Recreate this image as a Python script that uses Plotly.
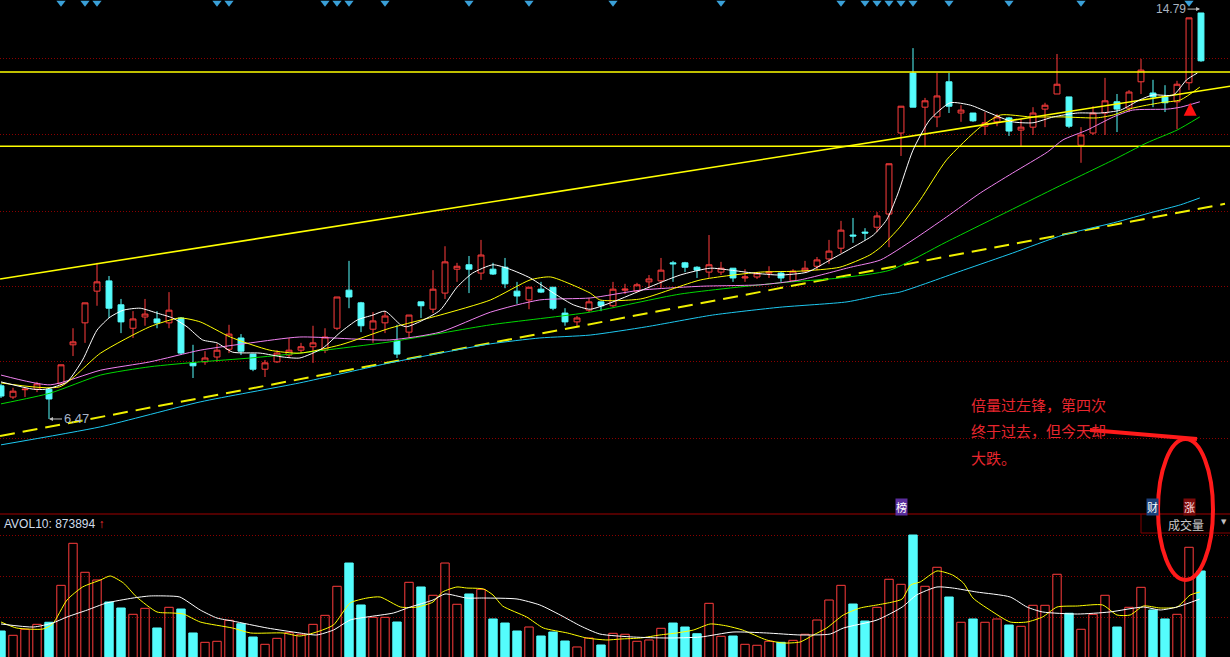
import plotly.graph_objects as go

# ---------------- data ----------------
idx = list(range(101))
open_ = [7.15, 6.92, 7.07, 7.08, 7.08, 7.19, 7.99, 8.44, 9.09, 9.30,
         8.81, 8.33, 8.56, 8.52, 8.44, 8.54, 7.62, 7.64, 7.74, 7.90,
         8.13, 7.80, 7.49, 7.64, 7.78, 7.88, 7.95, 7.88, 8.33, 9.11,
         8.85, 8.31, 8.44, 8.07, 8.25, 8.87, 8.72, 9.05, 9.54, 9.63,
         9.46, 9.54, 9.58, 9.09, 8.91, 9.13, 9.17, 8.64, 8.46, 8.70,
         8.87, 8.79, 9.11, 9.09, 9.28, 9.30, 9.67, 9.67, 9.58, 9.48,
         9.48, 9.56, 9.36, 9.38, 9.46, 9.46, 9.30, 9.50, 9.60, 9.75,
         9.97, 10.24, 10.30, 10.40, 10.67, 12.33, 13.56, 12.86, 12.66, 13.38,
         12.74, 12.74, 12.47, 12.56, 12.64, 12.39, 12.45, 12.82, 13.13, 13.07,
         12.08, 12.33, 12.74, 12.97, 12.84, 13.38, 13.15, 13.07, 12.97, 13.36,
         14.79]
high = [7.19, 7.11, 7.11, 7.23, 7.11, 7.58, 8.33, 8.85, 9.67, 9.40,
        8.93, 8.68, 8.93, 8.68, 9.07, 8.56, 7.99, 7.86, 8.01, 8.40,
        8.21, 7.80, 7.68, 7.88, 8.13, 8.03, 8.38, 8.33, 8.97, 9.71,
        8.87, 8.66, 8.68, 8.40, 8.60, 8.87, 9.52, 10.01, 9.67, 9.81,
        10.14, 9.67, 9.77, 9.28, 9.17, 9.28, 9.17, 8.74, 8.58, 8.95,
        8.87, 9.28, 9.24, 9.26, 9.42, 9.77, 9.71, 9.69, 9.60, 10.24,
        9.69, 9.56, 9.54, 9.48, 9.60, 9.50, 9.54, 9.71, 9.79, 10.14,
        10.53, 10.59, 10.38, 10.71, 11.70, 12.88, 14.07, 13.05, 13.56, 13.56,
        12.90, 12.74, 12.76, 12.72, 12.66, 12.62, 12.86, 12.95, 13.95, 13.07,
        12.45, 12.88, 13.46, 13.13, 13.21, 13.85, 13.42, 13.31, 13.40, 14.69,
        14.79]
low = [6.90, 6.88, 6.92, 7.02, 6.47, 7.17, 7.76, 8.03, 8.79, 8.54,
       8.23, 8.13, 8.38, 8.33, 8.33, 7.80, 7.31, 7.58, 7.64, 7.82,
       7.78, 7.45, 7.33, 7.62, 7.72, 7.82, 7.62, 7.82, 8.29, 8.74,
       8.25, 8.03, 8.23, 7.72, 8.13, 8.54, 8.64, 8.93, 9.28, 9.05,
       9.32, 9.42, 9.15, 8.83, 8.72, 9.05, 8.70, 8.38, 8.36, 8.66,
       8.68, 8.76, 9.03, 9.07, 9.15, 9.15, 9.28, 9.48, 9.36, 9.36,
       9.42, 9.28, 9.28, 9.34, 9.36, 9.28, 9.28, 9.48, 9.52, 9.65,
       9.87, 10.08, 10.14, 10.30, 9.99, 11.86, 12.86, 12.04, 12.45, 12.74,
       12.56, 12.56, 12.29, 12.47, 12.27, 12.06, 12.29, 12.45, 13.13, 12.43,
       11.72, 12.29, 12.29, 12.35, 12.76, 13.13, 12.86, 12.76, 12.41, 13.21,
       13.79]
close = [6.94, 7.04, 7.08, 7.19, 6.88, 7.58, 8.05, 8.85, 9.28, 8.74,
         8.46, 8.52, 8.62, 8.44, 8.70, 7.82, 7.56, 7.72, 7.88, 8.21,
         7.86, 7.49, 7.62, 7.82, 7.88, 7.95, 8.03, 8.15, 8.97, 8.97,
         8.38, 8.48, 8.58, 7.80, 8.60, 8.79, 9.13, 9.69, 9.60, 9.54,
         9.83, 9.44, 9.24, 8.99, 9.17, 9.07, 8.74, 8.46, 8.54, 8.87,
         8.79, 9.13, 9.13, 9.22, 9.34, 9.52, 9.65, 9.58, 9.52, 9.63,
         9.56, 9.36, 9.38, 9.46, 9.48, 9.36, 9.50, 9.56, 9.73, 9.91,
         10.34, 10.22, 10.28, 10.63, 11.70, 12.88, 12.86, 12.99, 13.09, 12.88,
         12.80, 12.58, 12.54, 12.66, 12.37, 12.45, 12.74, 12.90, 13.33, 12.47,
         12.29, 12.74, 12.99, 12.82, 13.17, 13.62, 13.07, 12.95, 13.33, 14.69,
         13.81]
volume = [408000, 345000, 433000, 505000, 535000, 1073000, 1685000, 1263000, 1151000, 830000,
          743000, 651000, 738000, 452000, 753000, 728000, 379000, 243000, 258000, 564000,
          514000, 320000, 214000, 301000, 383000, 360000, 505000, 636000, 1059000, 1398000,
          787000, 607000, 607000, 539000, 1117000, 1049000, 928000, 1398000, 797000, 947000,
          1015000, 583000, 524000, 408000, 466000, 335000, 393000, 262000, 175000, 306000,
          204000, 374000, 360000, 258000, 277000, 447000, 524000, 466000, 368000, 811000,
          331000, 335000, 214000, 200000, 258000, 243000, 272000, 360000, 568000, 859000,
          1073000, 801000, 553000, 753000, 1161000, 1088000, 1806000, 1059000, 1336000, 903000,
          535000, 583000, 535000, 583000, 495000, 476000, 782000, 782000, 1234000, 666000,
          433000, 651000, 928000, 466000, 753000, 1044000, 714000, 583000, 651000, 1627000,
          1282000]

# price moving averages
ma5_x = [0, 2.7, 3.7, 5.5, 6.8, 8, 9.1, 10.2, 11.6, 13, 14.3, 15.5, 16.8, 18, 19.3, 21.6,
         23.5, 24.9, 26.8, 28.3, 29.7, 31, 32, 33.3, 33.8, 35.2, 36.6, 38, 39.3, 41, 42.4,
         44.1, 46.3, 47.7, 49.1, 51, 53.8, 56.6, 59.1, 60.8, 62.7, 64.9, 67.2, 69.1, 71,
         72.7, 73.8, 74.7, 76, 77.4, 79.1, 80.8, 82.4, 84.3, 86, 87.7, 89.7, 91.6, 93.3,
         94.9, 96, 97.7, 98.8, 99.7]
ma5_y = [7.23, 7.08, 7.08, 7.23, 7.68, 8.29, 8.56, 8.70, 8.74, 8.64, 8.54, 8.36, 8.09, 8.03,
         7.84, 7.82, 7.74, 7.72, 7.92, 8.25, 8.50, 8.60, 8.68, 8.40, 8.36, 8.50, 8.70, 9.17,
         9.46, 9.63, 9.54, 9.36, 9.01, 8.81, 8.72, 8.87, 9.15, 9.42, 9.56, 9.52, 9.46, 9.42,
         9.48, 9.73, 9.99, 10.24, 10.55, 11.06, 11.98, 12.60, 12.95, 12.90, 12.74, 12.56,
         12.54, 12.66, 12.74, 12.74, 12.80, 13.01, 13.11, 13.11, 13.42, 13.56]
ma10_x = [0, 4.9, 8.3, 12.4, 14.9, 16.6, 19.1, 22.4, 24.9, 28.3, 32.4, 36.6, 40.8, 44.1,
          45.8, 49.1, 49.9, 53.3, 58.3, 63.3, 66.6, 69.9, 72.4, 73.3, 74.9, 76.6, 78.8,
          81.6, 83.3, 85.8, 88.5, 91.3, 92.7, 94.3, 96.6, 98.3, 99.9]
ma10_y = [7.21, 7.13, 7.82, 8.36, 8.54, 8.46, 8.15, 7.88, 7.82, 7.99, 8.33, 8.60, 8.91, 9.32,
          9.38, 9.05, 8.91, 8.93, 9.32, 9.48, 9.50, 9.58, 9.83, 9.99, 10.40, 10.96, 11.78,
          12.45, 12.70, 12.66, 12.66, 12.64, 12.70, 12.84, 12.95, 13.01, 13.27]
ma20_x = [0, 4.1, 8.3, 12.4, 16.6, 20.8, 24.9, 32.4, 36.6, 40.8, 44.9, 49.1, 53.3, 58.3,
          63.3, 66.6, 70.8, 73.3, 76, 78.8, 81.6, 84.3, 87.2, 88.5, 90.5, 92.7, 94.3, 97.2,
          98.3, 99.9]
ma20_y = [7.37, 7.17, 7.47, 7.64, 7.88, 8.03, 8.15, 8.09, 8.25, 8.66, 8.91, 8.95, 9.11, 9.19,
          9.22, 9.32, 9.58, 9.73, 10.14, 10.61, 11.10, 11.51, 11.94, 12.19, 12.39, 12.66,
          12.80, 12.82, 12.86, 12.97]
ma60_x = [0, 4.1, 8.3, 12.4, 16.6, 20.8, 24.9, 32.4, 40.8, 49.1, 56.6, 64.9, 69.9, 74.1,
          78.8, 84.3, 88, 92.7, 95.5, 98, 99.9]
ma60_y = [6.78, 7.00, 7.37, 7.54, 7.64, 7.72, 7.82, 8.05, 8.40, 8.66, 9.03, 9.26, 9.36, 9.52,
          10.10, 10.77, 11.22, 11.78, 12.13, 12.39, 12.66]
ma120_x = [0, 8.3, 16.6, 24.9, 32.4, 36.6, 40.8, 44.9, 49.1, 53.8, 59.3, 64.9, 70.5, 73.3,
           74.9, 80.2, 84.3, 88.5, 92.7, 96, 98.3, 99.9]
ma120_y = [5.94, 6.31, 6.82, 7.21, 7.62, 7.82, 8.01, 8.13, 8.19, 8.36, 8.60, 8.76, 8.87, 9.01,
           9.07, 9.52, 9.87, 10.24, 10.49, 10.71, 10.86, 11.00]

# volume moving averages
vma5_x = [0, 1.3, 3.5, 4.3, 5.5, 6.8, 8.3, 9.1, 10.2, 11.3, 13, 14.3, 15.2, 16.6, 19.3, 20.8,
          23.5, 24.9, 26.3, 27.7, 29.1, 30.5, 31.6, 33.3, 34.7, 36, 36.8, 38, 38.8, 40.2, 41,
          41.8, 43.8, 45.2, 47.2, 48.8, 50.5, 51.6, 53.3, 54.9, 56.3, 57.7, 59.1, 60.5, 61.8,
          63.8, 65.2, 66.6, 67.7, 68.8, 70.2, 71.6, 73, 74.3, 75.1, 75.8, 76.6, 78, 79.3, 80.2,
          81, 82.4, 84.1, 85.5, 86.8, 88, 89.7, 91.8, 93, 94.1, 95.2, 96.6, 98, 99.1, 99.9]
vma5_y = [539000, 451500, 437000, 510000, 859000, 1049000, 1151000, 1209000, 1107000, 903000,
          685000, 670000, 655000, 539000, 451000, 379000, 379000, 335000, 393000, 495000,
          816000, 888000, 903000, 757000, 757000, 830000, 976000, 1049000, 1034000, 1020000,
          932000, 772000, 612000, 452000, 379000, 306000, 277000, 291000, 306000, 350000,
          379000, 422000, 510000, 481000, 422000, 277000, 233000, 248000, 350000, 451000,
          641000, 743000, 787000, 830000, 874000, 1078000, 1122000, 1282000, 1223000, 1107000,
          888000, 714000, 539000, 539000, 612000, 757000, 772000, 787000, 641000, 641000,
          772000, 743000, 757000, 932000, 976000]
vma10_x = [0, 2.7, 4.3, 5.5, 7.2, 8.8, 11, 12.4, 13.8, 14.9, 16.6, 18, 19.3, 22.2, 24.9, 26.3,
           27.7, 29.1, 30.5, 32.7, 34.1, 36, 37, 38.8, 40.2, 43, 44.9, 46.6, 48.3, 49.9, 52.7,
           55.5, 58.3, 61, 63.8, 66.6, 69.1, 70.2, 73, 75.1, 76.3, 78, 79.3, 81.3, 84.1, 85.5,
           86.8, 89.7, 92.4, 95.2, 96.6, 98, 99.9]
vma10_y = [510000, 466000, 524000, 612000, 714000, 816000, 888000, 918000, 918000, 903000,
           714000, 597000, 553000, 451000, 379000, 350000, 422000, 568000, 612000, 670000,
           757000, 859000, 947000, 888000, 888000, 874000, 787000, 641000, 481000, 364000,
           320000, 306000, 320000, 393000, 379000, 350000, 364000, 451000, 568000, 757000,
           932000, 1049000, 1034000, 976000, 903000, 757000, 685000, 655000, 685000, 757000,
           714000, 757000, 873894]

# drawn lines / markers
resistance_levels = [13.58, 12.06]
trend_x = [-0.08, 102.42]
trend_y = [9.34, 13.29]
support_x = [-0.08, 102.0]
support_y = [6.12, 10.88]
signal_idx = [5, 7, 8, 18, 19, 27, 28, 29, 32, 39, 44, 51, 60, 70, 72, 73, 74, 75, 76, 79, 84, 90, 99]
buy_idx = [99.1]
buy_price = [12.95]

# ---------------- figure ----------------
W, H = 1230, 657
PRICE_BOTTOM_PX = 514
VOL_TOP_PX = 515
X_RANGE = [-1 / 12, 1229 / 12]

fig = go.Figure()

for lvl in resistance_levels:
    fig.add_trace(go.Scatter(x=[X_RANGE[0], X_RANGE[1]], y=[lvl, lvl], mode='lines',
                             line=dict(color='#ffff00', width=1.5), hoverinfo='skip'))
fig.add_trace(go.Scatter(x=trend_x, y=trend_y, mode='lines',
                         line=dict(color='#ffff00', width=1.6), hoverinfo='skip'))
fig.add_trace(go.Scatter(x=support_x, y=support_y, mode='lines',
                         line=dict(color='#f0f000', width=2, dash='15px,8px'), hoverinfo='skip'))

for xs, ys, col in [(ma120_x, ma120_y, '#1ec8f0'), (ma60_x, ma60_y, '#00d800'),
                    (ma20_x, ma20_y, '#f082f0'), (ma10_x, ma10_y, '#ffff00'),
                    (ma5_x, ma5_y, '#ffffff')]:
    fig.add_trace(go.Scatter(x=xs, y=ys, mode='lines',
                             line=dict(color=col, width=1, shape='spline', smoothing=0.6),
                             hoverinfo='skip'))

fig.add_trace(go.Candlestick(
    x=idx, open=open_, high=high, low=low, close=close,
    increasing=dict(line=dict(color='#ff3c3c', width=1), fillcolor='rgba(0,0,0,0)'),
    decreasing=dict(line=dict(color='#54fcfc', width=1), fillcolor='#54fcfc'),
    whiskerwidth=0, hoverinfo='skip', xaxis='x', yaxis='y'))

fig.add_trace(go.Scatter(x=signal_idx, y=[15.0] * len(signal_idx), mode='markers',
                         marker=dict(symbol='triangle-down', size=8, color='#3aa0d8'),
                         hoverinfo='skip'))
fig.add_trace(go.Scatter(x=buy_idx, y=buy_price, mode='markers',
                         marker=dict(symbol='arrow-up', size=13, color='#ff1010'),
                         hoverinfo='skip'))

# volume panel
up = [c >= o for o, c in zip(open_, close)]
fig.add_trace(go.Bar(
    x=idx, y=volume, width=0.7, xaxis='x2', yaxis='y2',
    marker=dict(color=['rgba(0,0,0,0)' if u else '#54fcfc' for u in up],
                line=dict(color=['#ff3c3c' if u else '#54fcfc' for u in up], width=1)),
    hoverinfo='skip'))
fig.add_trace(go.Scatter(x=vma5_x, y=vma5_y, mode='lines', xaxis='x2', yaxis='y2',
                         line=dict(color='#ffff00', width=1, shape='spline', smoothing=0.6),
                         hoverinfo='skip'))
fig.add_trace(go.Scatter(x=vma10_x, y=vma10_y, mode='lines', xaxis='x2', yaxis='y2',
                         line=dict(color='#ffffff', width=1, shape='spline', smoothing=0.6),
                         hoverinfo='skip'))

grid = dict(showgrid=True, gridcolor='#8a0000', griddash='1px,2px', gridwidth=1,
            showticklabels=False, zeroline=False, showline=False, ticks='')

fig.update_layout(
    width=W, height=H, margin=dict(l=0, r=0, t=0, b=0),
    paper_bgcolor='black', plot_bgcolor='black', showlegend=False,
    xaxis=dict(domain=[0, 1], range=X_RANGE, visible=False, anchor='y',
               rangeslider=dict(visible=False)),
    yaxis=dict(domain=[1 - PRICE_BOTTOM_PX / H, 1], range=[4.523, 15.056],
               tickvals=[6.08, 7.64, 9.19, 10.73, 12.29, 13.85], **grid),
    xaxis2=dict(domain=[0, 1], range=X_RANGE, visible=False, anchor='y2', matches='x'),
    yaxis2=dict(domain=[0, 1 - VOL_TOP_PX / H], range=[29130, 2097360],
                tickvals=[600000, 1200000, 1800000], **grid),
)

def px(xp):
    return xp / W

def py(yp):
    return 1 - yp / H

shapes = [
    dict(type='line', xref='paper', yref='paper', x0=0, x1=1, y0=py(514), y1=py(514),
         line=dict(color='#a00000', width=1)),
    dict(type='line', xref='paper', yref='paper', x0=px(1141), x1=px(1141), y0=py(514), y1=py(533),
         line=dict(color='#800000', width=1)),
    dict(type='line', xref='paper', yref='paper', x0=px(1141), x1=1, y0=py(533), y1=py(533),
         line=dict(color='#800000', width=1)),
    dict(type='line', xref='paper', yref='paper', x0=px(1090), x1=px(1197), y0=py(430), y1=py(439),
         line=dict(color='#ff1a1a', width=4)),
    dict(type='circle', xref='paper', yref='paper', x0=px(1158), x1=px(1213), y0=py(580), y1=py(439),
         line=dict(color='#ff1a1a', width=4)),
]
fig.update_layout(shapes=shapes)

cn = 'Noto Sans CJK SC'
ann = [
    dict(x=99.92, y=14.87, xref='x', yref='y', text='14.79', showarrow=True, ax=-29, ay=0,
         arrowhead=2, arrowsize=0.8, arrowwidth=1, arrowcolor='#c0c0c0',
         font=dict(family='Liberation Sans', size=12, color='#aab4c0')),
    dict(x=4, y=6.47, xref='x', yref='y', text='6.47', showarrow=True, ax=27, ay=0,
         arrowhead=2, arrowsize=0.8, arrowwidth=1, arrowcolor='#c0c0c0',
         font=dict(family='Liberation Sans', size=13, color='#a8b4c8')),
    dict(x=px(2), y=py(524), xref='paper', yref='paper', xanchor='left', yanchor='middle',
         text="AVOL10: 873894 <span style='color:#ff3030'>↑</span>", showarrow=False,
         font=dict(family='Liberation Sans', size=12, color='#d0dcea')),
    dict(x=px(1186), y=py(524), xref='paper', yref='paper', xanchor='center', yanchor='middle',
         text='成交量', showarrow=False, font=dict(family=cn, size=12, color='#c8c8c8')),
    dict(x=px(1224), y=py(522), xref='paper', yref='paper', xanchor='center', yanchor='middle',
         text='▼', showarrow=False, font=dict(family='DejaVu Sans', size=7, color='#c0c0c0')),
    dict(x=px(902), y=py(507), xref='paper', yref='paper', xanchor='center', yanchor='middle',
         text='榜', showarrow=False, bgcolor='#5a2d9c', borderpad=0,
         font=dict(family=cn, size=11, color='#ffffff')),
    dict(x=px(1152), y=py(507), xref='paper', yref='paper', xanchor='center', yanchor='middle',
         text='财', showarrow=False, bgcolor='#1b3f7a', borderpad=0,
         font=dict(family=cn, size=11, color='#ffffff')),
    dict(x=px(1189), y=py(507), xref='paper', yref='paper', xanchor='center', yanchor='middle',
         text='涨', showarrow=False, bgcolor='#7d0a0a', borderpad=0,
         font=dict(family=cn, size=11, color='#ffe0e0')),
]
for text, yy in [('倍量过左锋，第四次', 404), ('终于过去，但今天却', 430), ('大跌。', 457)]:
    ann.append(dict(x=px(969), y=py(yy), xref='paper', yref='paper', xanchor='left',
                    yanchor='middle', text=text, showarrow=False,
                    font=dict(family=cn, size=15, color='#e8262e')))
fig.update_layout(annotations=ann)

fig.write_html('out.html', config={'displayModeBar': False},
               post_script="document.body.style.margin='0px';document.body.style.overflow='hidden';")
